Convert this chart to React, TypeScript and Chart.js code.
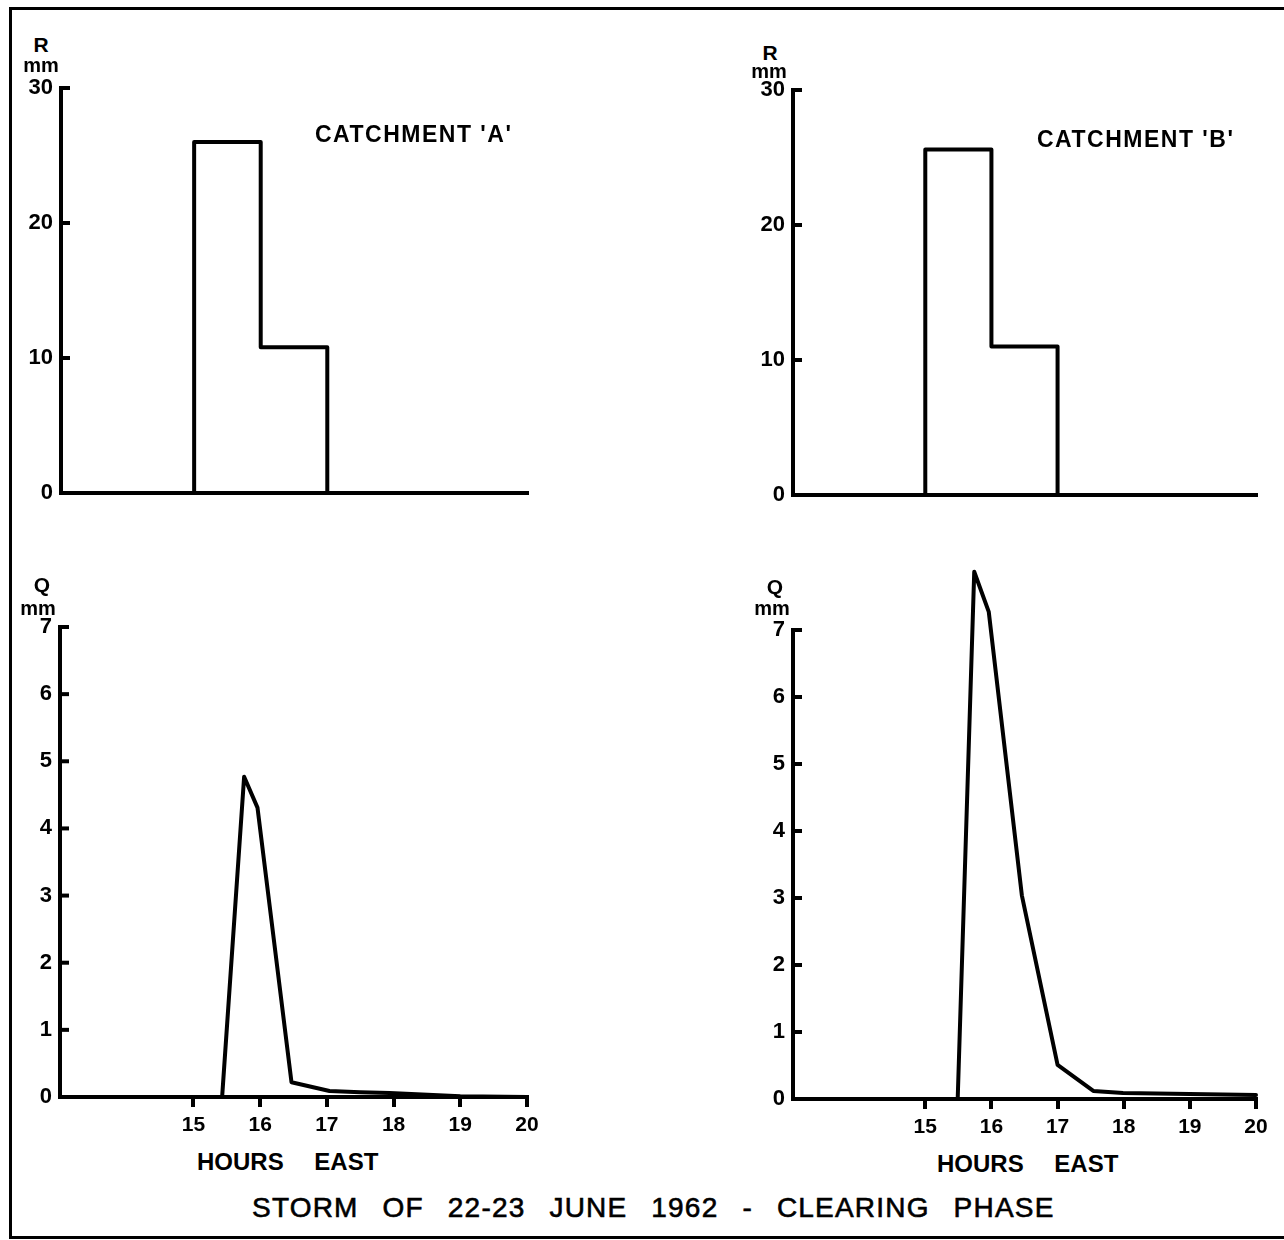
import React, { useEffect, useRef } from "react";
import { Chart, registerables } from "chart.js";

Chart.register(...registerables);

// ---------- data ----------
const hourMin = 13;
const hourMax = 20;
const hourTicks = [15, 16, 17, 18, 19, 20];

const rainEdgesA = [15, 16, 17];
const rainA = [26.0, 10.8];
const rainEdgesB = [15, 16, 17];
const rainB = [25.6, 11.0];
const rainTicks = [0, 10, 20, 30];
const rainMax = 30;

const qHoursA = [13, 15.43, 15.76, 15.96, 16.47, 17.04, 17.5, 17.94, 19.0, 20];
const qA = [0, 0, 4.77, 4.31, 0.22, 0.09, 0.07, 0.06, 0.01, 0];
const qHoursB = [13, 15.49, 15.74, 15.96, 16.46, 17.0, 17.54, 17.99, 20];
const qB = [0, 0, 7.87, 7.27, 3.04, 0.51, 0.12, 0.09, 0.06];
const qTicks = [0, 1, 2, 3, 4, 5, 6, 7];
const qMax = 7;

const FONT = "'Liberation Sans', Arial, Helvetica, sans-serif";

type Pt = { x: number; y: number };

function stepOutline(edges: number[], vals: number[]): Pt[] {
  const pts: Pt[] = [{ x: hourMin, y: 0 }, { x: edges[0], y: 0 }];
  vals.forEach((v, i) => {
    pts.push({ x: edges[i], y: v });
    pts.push({ x: edges[i + 1], y: v });
  });
  pts.push({ x: edges[edges.length - 1], y: 0 });
  pts.push({ x: hourMax, y: 0 });
  return pts;
}

function linePts(xs: number[], ys: number[]): Pt[] {
  return xs.map((x, i) => ({ x, y: ys[i] }));
}

const inwardTicks = {
  id: "inwardTicks",
  afterDraw(chart: any) {
    const ys = chart.scales.y;
    const ctx = chart.ctx;
    const x0 = chart.chartArea.left;
    ctx.save();
    ctx.strokeStyle = "#000";
    ctx.lineWidth = 4;
    ys.ticks.forEach((t: any) => {
      if (t.value === 0) return;
      const py = ys.getPixelForValue(t.value);
      ctx.beginPath();
      ctx.moveTo(x0, py);
      ctx.lineTo(x0 + 9, py);
      ctx.stroke();
    });
    ctx.restore();
  },
};

type PanelProps = {
  left: number;
  top: number;
  width: number;
  height: number;
  padTop: number;
  padRight: number;
  yW: number;
  xH: number;
  yMax: number;
  yTicks: number[];
  points: Pt[];
  showX: boolean;
};

function Panel(p: PanelProps) {
  const ref = useRef<HTMLCanvasElement>(null);
  useEffect(() => {
    const chart = new Chart(ref.current as HTMLCanvasElement, {
      type: "line",
      data: {
        datasets: [
          {
            data: p.points,
            borderColor: "#000",
            borderWidth: 4,
            pointRadius: 0,
            tension: 0,
            fill: false,
            clip: false as any,
            borderJoinStyle: "round",
            borderCapStyle: "round",
          } as any,
        ],
      },
      options: {
        animation: false,
        responsive: false,
        maintainAspectRatio: false,
        devicePixelRatio: 1,
        layout: { padding: { top: p.padTop, right: p.padRight, left: 0, bottom: 0 } },
        plugins: { legend: { display: false }, tooltip: { enabled: false } },
        scales: {
          x: {
            type: "linear",
            min: hourMin,
            max: hourMax,
            afterBuildTicks: (s: any) => {
              s.ticks = hourTicks.map((v) => ({ value: v }));
            },
            afterFit: (s: any) => {
              s.height = p.xH;
            },
            grid: {
              drawOnChartArea: false,
              drawTicks: p.showX,
              tickLength: 10,
              tickWidth: 4,
              tickColor: "#000",
              color: "#000",
              lineWidth: 4,
            },
            border: { display: true, color: "#000", width: 4 },
            ticks: {
              display: p.showX,
              color: "#000",
              font: { family: FONT, size: 21, weight: "bold" },
              padding: 6,
              maxRotation: 0,
              autoSkip: false,
            },
          },
          y: {
            type: "linear",
            min: 0,
            max: p.yMax,
            afterBuildTicks: (s: any) => {
              s.ticks = p.yTicks.map((v) => ({ value: v }));
            },
            afterFit: (s: any) => {
              s.width = p.yW;
            },
            grid: { drawOnChartArea: false, drawTicks: false, color: "#000", lineWidth: 4 },
            border: { display: true, color: "#000", width: 4 },
            ticks: {
              color: "#000",
              font: { family: FONT, size: 22, weight: "bold" },
              padding: 8,
              autoSkip: false,
            },
          },
        },
      },
      plugins: [inwardTicks],
    } as any);
    return () => chart.destroy();
  }, []);
  return (
    <canvas
      ref={ref}
      width={p.width}
      height={p.height}
      style={{ position: "absolute", left: p.left, top: p.top, width: p.width, height: p.height }}
    />
  );
}

function Txt(props: {
  left: number;
  top: number;
  size: number;
  bold?: boolean;
  center?: boolean;
  ls?: number;
  ws?: number;
  stroke?: number;
  children: React.ReactNode;
}) {
  return (
    <div
      style={{
        position: "absolute",
        left: props.left,
        top: props.top,
        fontFamily: FONT,
        fontSize: props.size,
        fontWeight: props.bold ? "bold" : "normal",
        lineHeight: 1,
        whiteSpace: "pre",
        color: "#000",
        letterSpacing: props.ls ?? 0,
        wordSpacing: props.ws ?? 0,
        WebkitTextStroke: props.stroke ? `${props.stroke}px #000` : undefined,
        transform: props.center ? "translateX(-50%)" : undefined,
      }}
    >
      {props.children}
    </div>
  );
}

export default function App() {
  return (
    <div
      style={{
        position: "absolute",
        left: 0,
        top: 0,
        width: 1284,
        height: 1240,
        overflow: "hidden",
        background: "#fff",
      }}
    >
      <div
        style={{
          position: "absolute",
          left: 9,
          top: 7,
          width: 1300,
          height: 1232,
          boxSizing: "border-box",
          borderLeft: "3px solid #000",
          borderTop: "3px solid #000",
          borderBottom: "3px solid #000",
        }}
      />

      {/* top-left: rainfall A */}
      <Panel left={5} top={64} width={544} height={453} padTop={24} padRight={22} yW={56} xH={24}
        yMax={rainMax} yTicks={rainTicks} points={stepOutline(rainEdgesA, rainA)} showX={false} />
      {/* top-right: rainfall B */}
      <Panel left={737} top={66} width={541} height={453} padTop={24} padRight={22} yW={56} xH={24}
        yMax={rainMax} yTicks={rainTicks} points={stepOutline(rainEdgesB, rainB)} showX={false} />
      {/* bottom-left: discharge A */}
      <Panel left={4} top={557} width={545} height={580} padTop={70} padRight={22} yW={56} xH={40}
        yMax={qMax} yTicks={qTicks} points={linePts(qHoursA, qA)} showX={true} />
      {/* bottom-right: discharge B */}
      <Panel left={737} top={560} width={541} height={579} padTop={70} padRight={22} yW={56} xH={40}
        yMax={qMax} yTicks={qTicks} points={linePts(qHoursB, qB)} showX={true} />

      {/* axis unit labels */}
      <Txt left={41} top={34} size={21} bold center>R</Txt>
      <Txt left={41} top={55} size={20} bold center>mm</Txt>
      <Txt left={770} top={42} size={21} bold center>R</Txt>
      <Txt left={769} top={61} size={20} bold center>mm</Txt>
      <Txt left={42} top={574} size={21} bold center>Q</Txt>
      <Txt left={38} top={598} size={20} bold center>mm</Txt>
      <Txt left={775} top={576} size={21} bold center>Q</Txt>
      <Txt left={772} top={598} size={20} bold center>mm</Txt>

      {/* panel titles */}
      <Txt left={315} top={123} size={23} bold ls={1.5}>CATCHMENT 'A'</Txt>
      <Txt left={1037} top={128} size={23} bold ls={1.5}>CATCHMENT 'B'</Txt>

      {/* x axis titles */}
      <Txt left={197} top={1150} size={24} bold ws={24}>HOURS EAST</Txt>
      <Txt left={937} top={1152} size={24} bold ws={24}>HOURS EAST</Txt>

      {/* figure caption */}
      <Txt left={252} top={1194} size={28} ls={1.2} ws={15} stroke={0.6}>STORM OF 22-23 JUNE 1962 - CLEARING PHASE</Txt>
    </div>
  );
}
